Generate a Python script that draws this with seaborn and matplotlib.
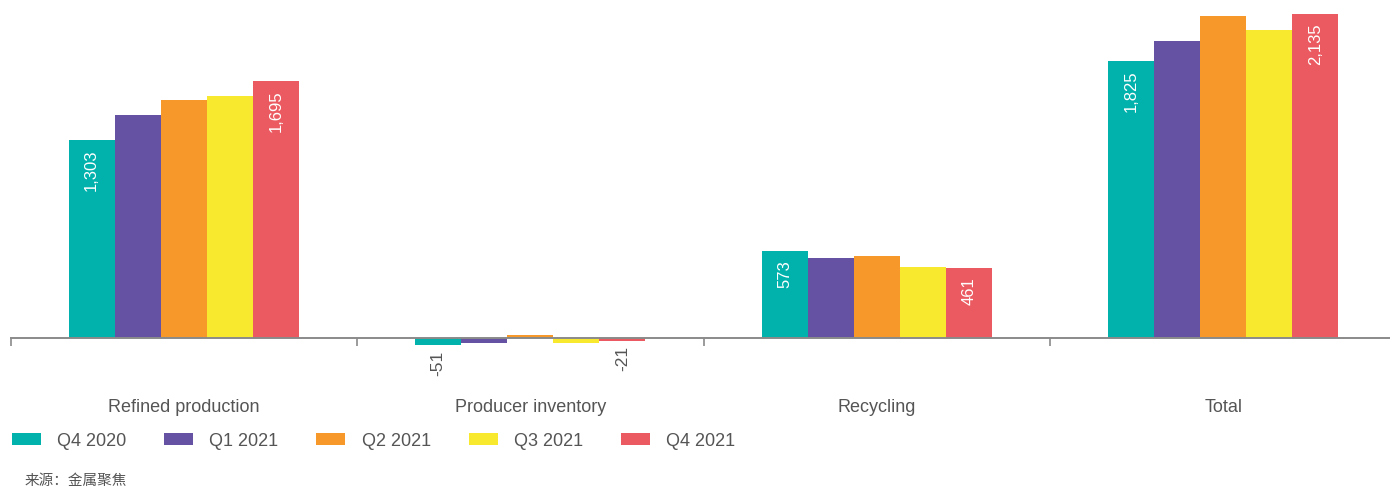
import matplotlib
matplotlib.use("Agg")
import matplotlib.pyplot as plt
import seaborn as sns
import pandas as pd

categories = ["Refined production", "Producer inventory", "Recycling", "Total"]
periods = ["Q4 2020", "Q1 2021", "Q2 2021", "Q3 2021", "Q4 2021"]
q4_2020 = [1303, -51, 573, 1825]
q1_2021 = [1469, -33, 528, 1959]
q2_2021 = [1568, 16, 540, 2122]
q3_2021 = [1594, -35, 463, 2030]
q4_2021 = [1695, -21, 461, 2135]
series = [q4_2020, q1_2021, q2_2021, q3_2021, q4_2021]
labelled = ["Q4 2020", "Q4 2021"]
colors = ["#00B1AC", "#6652A3", "#F7992A", "#F9E92E", "#EB5A60"]

rows = []
for p, vals in zip(periods, series):
    for c, v in zip(categories, vals):
        rows.append({"category": c, "period": p, "value": v})
df = pd.DataFrame(rows)

sns.set_style("white")
plt.rcParams["font.family"] = ["Liberation Sans", "Noto Sans CJK SC", "DejaVu Sans"]

fig = plt.figure(figsize=(13.9, 4.88), dpi=100)
ax = fig.add_axes([10.5 / 1390, (488 - 360) / 488, 4 * 346.5 / 1390, 360 / 488])

sns.barplot(data=df, x="category", y="value", hue="period", order=categories,
            hue_order=periods, palette=colors, saturation=1, width=0.664,
            gap=0, linewidth=0, ax=ax, legend=True)

scale = 6.6
ax.set_ylim(-22.5 * scale, 337.5 * scale)
ax.set_xlim(-0.5, 3.5)

for s in ["left", "top", "right"]:
    ax.spines[s].set_visible(False)
ax.spines["bottom"].set_position(("data", 0))
ax.spines["bottom"].set_color("#8a8a8a")
ax.spines["bottom"].set_linewidth(1.4)
ax.set_yticks([])
ax.set_xlabel("")
ax.set_ylabel("")
ax.set_xticks(range(len(categories)))
ax.set_xticklabels(categories)
ax.tick_params(axis="x", which="major", bottom=False, length=0, pad=44, labelsize=13,
               labelcolor="#555555")
ax.set_xticks([i - 0.5 for i in range(len(categories) + 1)], minor=True)
ax.tick_params(axis="x", which="minor", bottom=True, length=6, width=1.2,
               direction="out", color="#8a8a8a")
for t in ax.xaxis.get_minorticklines():
    t.set_clip_on(False)

for cont, p, vals in zip(ax.containers, periods, series):
    if p not in labelled:
        continue
    for bar, v in zip(cont, vals):
        x = bar.get_x() + bar.get_width() / 2
        if v >= 0:
            ax.annotate(f"{v:,}", (x, v), xytext=(0, -7), textcoords="offset points",
                        rotation=90, ha="center", va="top", color="white", fontsize=12)
        else:
            ax.annotate(f"{v:,}", (x, v), xytext=(0, -4), textcoords="offset points",
                        rotation=90, ha="center", va="top", color="#555555", fontsize=12.5)

handles, labels = ax.get_legend_handles_labels()
ax.get_legend().remove()
fig.legend(handles, labels, loc="center left", bbox_to_anchor=(12 / 1390, 1 - 441 / 488),
           ncol=5, frameon=False, fontsize=13, handlelength=1.6, handleheight=0.6,
           handletextpad=0.9, columnspacing=2.1, borderaxespad=0, borderpad=0,
           labelcolor="#555555")

fig.text(25 / 1390, 1 - 481 / 488, "来源：金属聚焦", va="center", ha="left",
         fontsize=10.5, color="#555555", family=["Noto Sans CJK SC", "DejaVu Sans"])

fig.savefig("out.png", dpi=100)
